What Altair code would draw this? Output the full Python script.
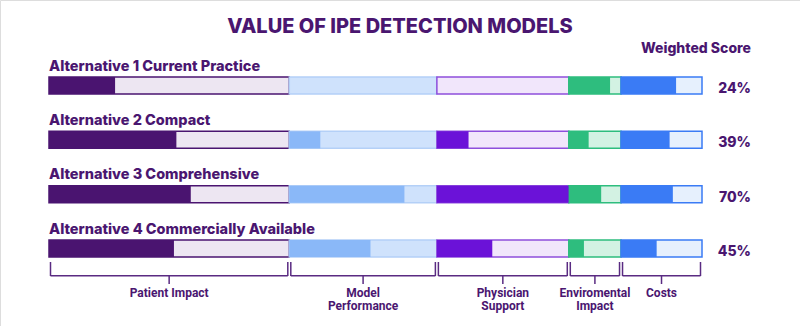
import altair as alt
import pandas as pd

# ---- data ----
alternatives = ["Alternative 1 Current Practice", "Alternative 2 Compact",
                "Alternative 3 Comprehensive", "Alternative 4 Commercially Available"]
criteria = ["Patient Impact", "Model Performance", "Physician Support",
            "Enviromental Impact", "Costs"]
label_line1 = ["Patient Impact", "Model", "Physician", "Enviromental", "Costs"]
label_line2 = ["", "Performance", "Support", "Impact", ""]
weights = [36.8, 22.6, 20.2, 8.0, 12.4]          # share of total bar (%)
scores_alt1 = [27.5, 0, 0, 79, 68]               # % of each criterion achieved
scores_alt2 = [53, 21, 24, 38, 60]
scores_alt3 = [59, 78, 100, 62, 64]
scores_alt4 = [52, 55, 42, 29, 44]
weighted_scores = [24, 39, 70, 45]

# ---- styles ----
dark_colors = ["#4A1470", "#8AB8F8", "#6B12D8", "#2EBD7E", "#3A7BF5"]
light_colors = ["#EDE6F2", "#CFE2FC", "#F1E6FB", "#D3F2E3", "#E6F0FD"]
stroke_colors = ["#4A1470", "#B4D0F7", "#8E4FDC", "#2EBD7E", "#3A7BF5"]
TEXT = "#4A1670"
BRACKET = "#5A2B82"
FONT = "Inter"
FONT2 = "Roboto"

all_scores = [scores_alt1, scores_alt2, scores_alt3, scores_alt4]
rows = []
for i, (name, sc) in enumerate(zip(alternatives, all_scores)):
    start = 0.0
    for j, c in enumerate(criteria):
        w = weights[j]
        rows.append(dict(alt=name, row=i, criterion=c, start=start, end=start + w,
                         fill_end=start + w * sc[j] / 100.0))
        start += w
segments = pd.DataFrame(rows)

alt_df = pd.DataFrame(dict(alt=alternatives, row=list(range(len(alternatives))),
                           zero=[0] * len(alternatives),
                           score=[f"{s}%" for s in weighted_scores]))

brk = []
s = 0.0
for c, l1, l2, w in zip(criteria, label_line1, label_line2, weights):
    brk.append(dict(criterion=c, l1=l1, l2=l2, start=s, end=s + w, mid=s + w / 2))
    s += w
brackets = pd.DataFrame(brk)

ROW_PX = (248.5 - 85.5) / 3.0
HALF = 8.5 / ROW_PX

xs = alt.Scale(domain=[0, 100], range=[49, 702])
ys = alt.Scale(domain=[0, 3], range=[85.5, 248.5])

base = alt.Chart(segments).transform_calculate(
    y_top=f"datum.row - {HALF}", y_bot=f"datum.row + {HALF}")

bg = base.mark_rect(strokeWidth=1.5).encode(
    x=alt.X("start:Q", scale=xs, axis=None),
    x2="end:Q",
    y=alt.Y("y_top:Q", scale=ys, axis=None),
    y2="y_bot:Q",
    fill=alt.Fill("criterion:N", scale=alt.Scale(domain=criteria, range=light_colors), legend=None),
    stroke=alt.Stroke("criterion:N", scale=alt.Scale(domain=criteria, range=stroke_colors), legend=None),
)

fg = base.mark_rect().encode(
    x=alt.X("start:Q", scale=xs, axis=None),
    x2="fill_end:Q",
    y=alt.Y("y_top:Q", scale=ys, axis=None),
    y2="y_bot:Q",
    color=alt.Color("criterion:N", scale=alt.Scale(domain=criteria, range=dark_colors), legend=None),
)

row_labels = alt.Chart(alt_df).mark_text(
    align="left", baseline="alphabetic", dy=-15, font=FONT, fontSize=14.5,
    fontWeight=800, color=TEXT).encode(
    x=alt.X("zero:Q", scale=xs, axis=None),
    y=alt.Y("row:Q", scale=ys, axis=None),
    text="alt:N",
)

score_labels = alt.Chart(alt_df).mark_text(
    align="right", baseline="alphabetic", dy=7.5, font=FONT, fontSize=14,
    fontWeight=800, color=TEXT).encode(
    x=alt.value(751),
    y=alt.Y("row:Q", scale=ys, axis=None),
    text="score:N",
)

header = alt.Chart(pd.DataFrame({"t": ["Weighted Score"]})).mark_text(
    align="right", baseline="alphabetic", font=FONT, fontSize=14,
    fontWeight=800, color=TEXT).encode(
    x=alt.value(751), y=alt.value(53.3), text="t:N")

title = alt.Chart(pd.DataFrame({"t": ["VALUE OF IPE DETECTION MODELS"]})).mark_text(
    align="center", baseline="alphabetic", font=FONT, fontSize=20,
    fontWeight=800, color=TEXT).encode(
    x=alt.value(400), y=alt.value(33.3), text="t:N")

bk = alt.Chart(brackets)
left_end = bk.mark_rule(color=BRACKET, strokeWidth=1.5, xOffset=1.5).encode(
    x=alt.X("start:Q", scale=xs, axis=None), y=alt.value(262), y2=alt.value(276))
right_end = bk.mark_rule(color=BRACKET, strokeWidth=1.5, xOffset=-1.5).encode(
    x=alt.X("end:Q", scale=xs, axis=None), y=alt.value(262), y2=alt.value(276))
hline = bk.mark_rule(color=BRACKET, strokeWidth=1.5, xOffset=1.5, x2Offset=-1.5).encode(
    x=alt.X("start:Q", scale=xs, axis=None), x2="end:Q", y=alt.value(275.7))
ctick = bk.mark_rule(color=BRACKET, strokeWidth=1.5).encode(
    x=alt.X("mid:Q", scale=xs, axis=None), y=alt.value(275.7), y2=alt.value(284))
blabels1 = bk.mark_text(
    align="center", baseline="alphabetic",
    font=FONT2, fontSize=12, fontWeight="bold", color=TEXT).encode(
    x=alt.X("mid:Q", scale=xs, axis=None), y=alt.value(296.5), text="l1:N")
blabels2 = bk.mark_text(
    align="center", baseline="alphabetic",
    font=FONT2, fontSize=12, fontWeight="bold", color=TEXT).encode(
    x=alt.X("mid:Q", scale=xs, axis=None), y=alt.value(310), text="l2:N")

chart = alt.layer(
    bg, fg, row_labels, score_labels, header, title,
    left_end, right_end, hline, ctick, blabels1, blabels2
).properties(
    width=800, height=326, padding=0,
    autosize=alt.AutoSizeParams(type="none"),
).configure_view(stroke=None).configure(background="white")

chart.save("out.html", embed_options={"renderer": "svg", "actions": False})
